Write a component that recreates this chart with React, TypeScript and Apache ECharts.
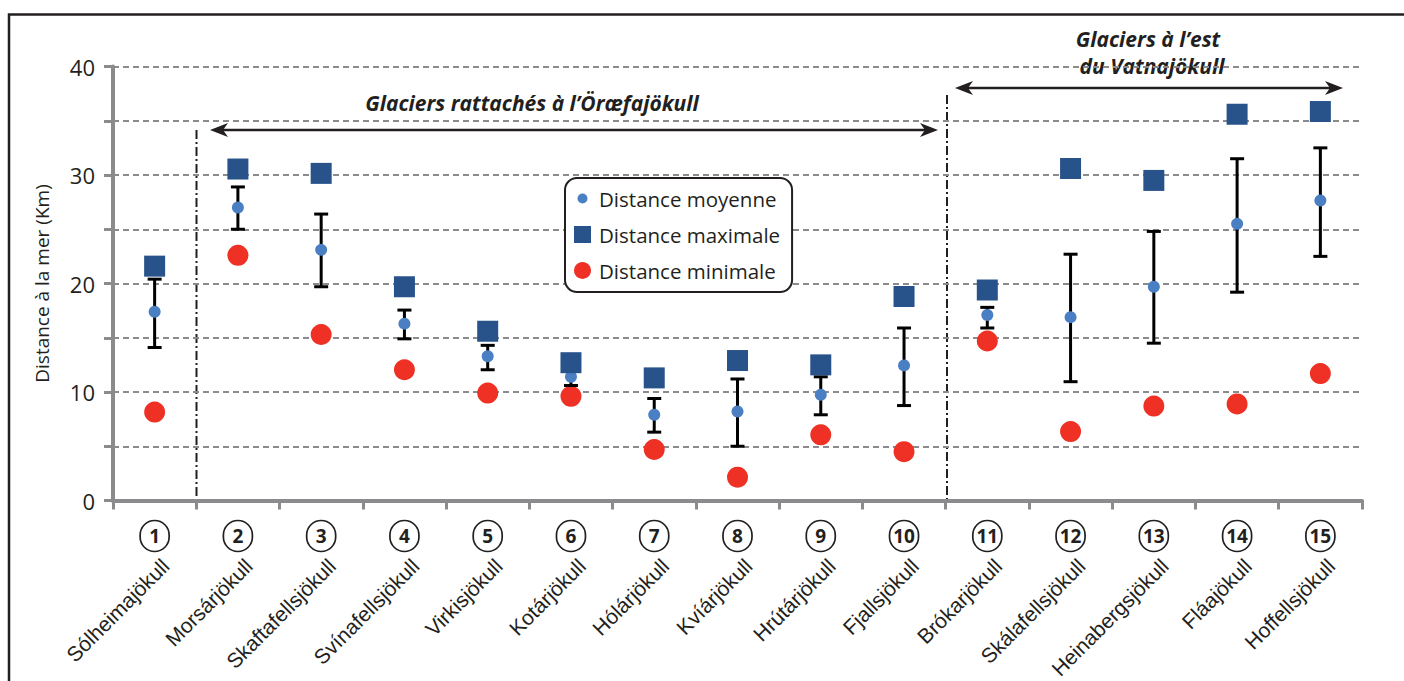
import React, { useEffect, useRef } from 'react';
import * as echarts from 'echarts';

const glacierNumbers = ['1', '2', '3', '4', '5', '6', '7', '8', '9', '10', '11', '12', '13', '14', '15'];
const glacierNames = [
  'Sólheimajökull', 'Morsárjökull', 'Skaftafellsjökull', 'Svínafellsjökull', 'Virkisjökull',
  'Kotárjökull', 'Hólárjökull', 'Kvíárjökull', 'Hrútárjökull', 'Fjallsjökull',
  'Brókarjökull', 'Skálafellsjökull', 'Heinabergsjökull', 'Fláajökull', 'Hoffellsjökull',
];
const meanDistance = [17.4, 27.0, 23.1, 16.3, 13.3, 11.4, 7.9, 8.2, 9.75, 12.45, 17.1, 16.9, 19.7, 25.5, 27.65];
const maxDistance = [21.6, 30.55, 30.15, 19.7, 15.6, 12.7, 11.3, 12.9, 12.5, 18.8, 19.4, 30.6, 29.5, 35.6, 35.85];
const minDistance = [8.15, 22.6, 15.3, 12.05, 9.9, 9.6, 4.7, 2.15, 6.05, 4.5, 14.7, 6.35, 8.7, 8.9, 11.7];
const errorLow = [14.1, 25.0, 19.7, 14.9, 12.05, 10.6, 6.3, 5.0, 7.9, 8.75, 15.9, 10.95, 14.5, 19.2, 22.5];
const errorHigh = [20.4, 28.9, 26.4, 17.55, 14.3, 12.2, 9.4, 11.2, 11.4, 15.9, 17.8, 22.7, 24.8, 31.5, 32.5];
const yLabelled = [0, 10, 20, 30, 40];

const seriesNames = ['Distance moyenne', 'Distance maximale', 'Distance minimale'];
const groupTitleWest = 'Glaciers rattachés à l’Öræfajökull';
const groupTitleEast = ['Glaciers à l’est', 'du Vatnajökull'];

const INK = '#231f20';
const AXIS = '#8b8b8d';
const SANS = "'Open Sans', 'Noto Sans', sans-serif";
const ARIAL = "'Liberation Sans', Arial, sans-serif";

function arrowHead(tx: number, y: number, dir: number) {
  return {
    type: 'polygon',
    shape: { points: [[tx, y], [tx + dir * 18, y - 7], [tx + dir * 13, y], [tx + dir * 18, y + 7]] },
    style: { fill: INK },
  };
}

function doubleArrow(x1: number, x2: number, y: number) {
  return [
    { type: 'line', shape: { x1: x1 + 10, y1: y, x2: x2 - 10, y2: y }, style: { stroke: INK, lineWidth: 2.6 } },
    arrowHead(x1, y, 1),
    arrowHead(x2, y, -1),
  ];
}

export default function App() {
  const ref = useRef<HTMLDivElement>(null);
  useEffect(() => {
    const chart = echarts.init(ref.current!, null, { renderer: 'svg' });
    const option: any = {
      animation: false,
      backgroundColor: '#ffffff',
      grid: {
        left: 113, right: 42, top: 66.5, bottom: 180.5,
        containLabel: false, outerBoundsMode: 'none',
      },
      legend: {
        orient: 'vertical',
        left: 565,
        top: 178,
        itemWidth: 17,
        itemHeight: 17,
        itemGap: 15,
        padding: [10, 12, 11, 9],
        borderColor: INK,
        borderWidth: 2,
        borderRadius: 12,
        backgroundColor: '#ffffff',
        textStyle: { fontSize: 20.5, color: INK, fontFamily: SANS, padding: [0, 0, 0, 3] },
        data: [
          { name: seriesNames[0], icon: 'path://M0,0M17,17M3.5,8.5a5,5 0 1,0 10,0a5,5 0 1,0 -10,0Z' },
          { name: seriesNames[1], icon: 'rect' },
          { name: seriesNames[2], icon: 'circle' },
        ],
      },
      xAxis: [
        {
          type: 'category',
          data: glacierNumbers,
          position: 'bottom',
          axisLine: { show: true, lineStyle: { color: AXIS, width: 4 } },
          axisTick: { show: true, length: 9, lineStyle: { color: AXIS, width: 3 } },
          splitLine: { show: false },
          axisLabel: {
            interval: 0,
            margin: 20,
            formatter: (v: string) => `{c|${v}}`,
            rich: {
              c: {
                width: 29,
                height: 31,
                lineHeight: 31,
                align: 'center',
                verticalAlign: 'middle',
                borderColor: INK,
                borderWidth: 1.7,
                borderRadius: 16,
                fontSize: 19,
                fontWeight: 'bold',
                fontFamily: SANS,
                color: INK,
              },
            },
          },
        },
        {
          type: 'category',
          data: glacierNames,
          position: 'bottom',
          offset: 0,
          axisLine: { show: false },
          axisTick: { show: false },
          splitLine: { show: false },
          axisLabel: {
            interval: 0,
            rotate: 45,
            margin: 51,
            fontSize: 21,
            fontFamily: ARIAL,
            color: INK,
            verticalAlign: 'top',
            padding: [5, 0, 0, 0],
          },
        },
      ],
      yAxis: {
        type: 'value',
        min: 0,
        max: 40,
        interval: 5,
        name: 'Distance à la mer (Km)',
        nameLocation: 'middle',
        nameGap: 62,
        nameTextStyle: { fontSize: 19, color: INK, fontFamily: SANS },
        axisLine: { show: true, lineStyle: { color: AXIS, width: 4 } },
        axisTick: { show: true, length: 9, lineStyle: { color: AXIS, width: 3 } },
        axisLabel: {
          margin: 18,
          fontSize: 22,
          color: INK,
          fontFamily: SANS,
          formatter: (v: number) => (yLabelled.indexOf(v) >= 0 ? String(v) : ''),
        },
        splitLine: { show: true, lineStyle: { color: AXIS, width: 2, type: [6, 4] } },
      },
      series: [
        {
          name: seriesNames[0],
          type: 'scatter',
          data: meanDistance,
          symbol: 'circle',
          symbolSize: 12,
          itemStyle: { color: '#4a7fc3', opacity: 1 },
          z: 4,
        },
        {
          name: seriesNames[1],
          type: 'scatter',
          data: maxDistance,
          symbol: 'rect',
          symbolSize: 21,
          itemStyle: { color: '#27528a', opacity: 1 },
          z: 5,
        },
        {
          name: seriesNames[2],
          type: 'scatter',
          data: minDistance,
          symbol: 'circle',
          symbolSize: 21,
          itemStyle: { color: '#ee3124', opacity: 1 },
          z: 2,
        },
        {
          name: 'Écart',
          type: 'custom',
          z: 3,
          encode: { x: 0, y: [1, 2] },
          data: errorLow.map((lo, i) => [i, lo, errorHigh[i]]),
          renderItem: (params: any, api: any) => {
            const i = api.value(0);
            const lo = api.coord([i, api.value(1)]);
            const hi = api.coord([i, api.value(2)]);
            const cap = 7;
            const style = { stroke: '#000000', lineWidth: 3 };
            return {
              type: 'group',
              children: [
                { type: 'line', shape: { x1: lo[0], y1: lo[1], x2: hi[0], y2: hi[1] }, style },
                { type: 'line', shape: { x1: lo[0] - cap, y1: lo[1], x2: lo[0] + cap, y2: lo[1] }, style },
                { type: 'line', shape: { x1: hi[0] - cap, y1: hi[1], x2: hi[0] + cap, y2: hi[1] }, style },
              ],
            };
          },
        },
      ],
      graphic: [
        {
          type: 'rect',
          shape: { x: 9, y: 14.5, width: 1430, height: 720 },
          style: { fill: 'none', stroke: INK, lineWidth: 2.5 },
          silent: true,
        },
        {
          type: 'line',
          shape: { x1: 196.5, y1: 130, x2: 196.5, y2: 501 },
          style: { stroke: INK, lineWidth: 2, lineDash: [9, 3, 2, 3] },
        },
        {
          type: 'line',
          shape: { x1: 947, y1: 95, x2: 947, y2: 501 },
          style: { stroke: INK, lineWidth: 2, lineDash: [9, 3, 2, 3] },
        },
        ...doubleArrow(210, 938, 130),
        ...doubleArrow(955, 1343, 88),
        {
          type: 'text',
          style: {
            text: groupTitleWest, x: 532, y: 103, align: 'center', verticalAlign: 'middle',
            fontSize: 21, fontWeight: 'bold', fontStyle: 'italic', fontFamily: SANS, fill: INK,
          },
        },
        {
          type: 'text',
          style: {
            text: groupTitleEast[0], x: 1148, y: 39, align: 'center', verticalAlign: 'middle',
            fontSize: 21, fontWeight: 'bold', fontStyle: 'italic', fontFamily: SANS, fill: INK,
          },
        },
        {
          type: 'text',
          style: {
            text: groupTitleEast[1], x: 1152, y: 66, align: 'center', verticalAlign: 'middle',
            fontSize: 21, fontWeight: 'bold', fontStyle: 'italic', fontFamily: SANS, fill: INK,
          },
        },
      ],
    };
    chart.setOption(option);
    return () => chart.dispose();
  }, []);
  return (
    <div
      ref={ref}
      style={{ position: 'fixed', left: 0, top: 0, width: 1404, height: 681, background: '#ffffff' }}
    />
  );
}
